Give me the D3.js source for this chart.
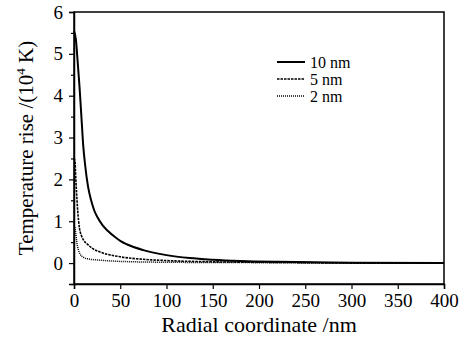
<!DOCTYPE html>
<html>
<head>
<meta charset="utf-8">
<script src="https://cdn.jsdelivr.net/npm/d3@7"></script>
<style>
  body { margin: 0; background: #fff; }
  svg text { font-family: "Liberation Serif", "Times New Roman", serif; fill: #000; }
</style>
</head>
<body>
<div id="wrapper"></div>
<script>
// data (radius in nm, temperature rise in 10^4 K)
const r10 = [0, 2, 4, 6, 8, 10, 12, 15, 18.5, 22, 26, 31, 37, 45, 50, 57, 75, 100, 125, 150, 180, 220, 260, 300, 400];
const t10 = [5.55, 5.35, 4.8, 4.2, 3.5, 2.8, 2.35, 1.85, 1.5, 1.25, 1.07, 0.9, 0.76, 0.61, 0.53, 0.45, 0.31, 0.19, 0.12, 0.08, 0.05, 0.03, 0.02, 0.01, 0];
const r5 = [0, 1, 2, 3, 4, 5, 6, 8, 10, 15, 20, 30, 50, 75, 100, 150, 200, 250, 300, 400];
const t5 = [2.5, 2.45, 2.0, 1.6, 1.25, 1.0, 0.82, 0.66, 0.56, 0.44, 0.35, 0.25, 0.15, 0.09, 0.06, 0.03, 0.02, 0.01, 0, 0];
const r2 = [0, 1, 2, 3, 4, 5, 7, 10, 15, 28, 50, 100, 200, 300, 400];
const t2 = [0.9, 0.85, 0.7, 0.5, 0.38, 0.3, 0.2, 0.14, 0.1, 0.07, 0.04, 0.02, 0.01, 0, 0];

const seriesNames = ["10 nm", "5 nm", "2 nm"];
const xTicks = [0, 50, 100, 150, 200, 250, 300, 350, 400];
const yTicks = [0, 1, 2, 3, 4, 5, 6];

const series = [
  { name: seriesNames[0], r: r10, t: t10, width: 2, dash: null },
  { name: seriesNames[1], r: r5, t: t5, width: 1.6, dash: "2.5,1" },
  { name: seriesNames[2], r: r2, t: t2, width: 1.5, dash: "1,1" },
];

const width = 472;
const height = 341;
const margin = { top: 12, right: 28, bottom: 57, left: 74 };

const svg = d3.select("#wrapper").append("svg")
  .attr("width", width)
  .attr("height", height);

const x = d3.scaleLinear().domain([0, 400]).range([margin.left, width - margin.right]);
const y = d3.scaleLinear().domain([-0.5, 6]).range([height - margin.bottom, margin.top]);

// frame
svg.append("rect")
  .attr("x", x(0)).attr("y", y(6))
  .attr("width", x(400) - x(0)).attr("height", y(-0.5) - y(6))
  .attr("fill", "none").attr("stroke", "#000").attr("stroke-width", 1.5);

// axes
const xAxis = svg.append("g")
  .attr("transform", `translate(0,${y(-0.5)})`)
  .call(d3.axisBottom(x).tickValues(xTicks).tickSize(5).tickPadding(5).tickFormat(d3.format("d")));

const yAxis = svg.append("g")
  .attr("transform", `translate(${x(0)},0)`)
  .call(d3.axisLeft(y).tickValues(yTicks).tickSize(5).tickPadding(6).tickFormat(d3.format("d")));

// minor y ticks
svg.append("g")
  .attr("transform", `translate(${x(0)},0)`)
  .call(d3.axisLeft(y).tickValues(d3.range(-0.5, 6, 1)).tickSize(3).tickFormat(""))
  .call((g) => g.select(".domain").remove());

[xAxis, yAxis].forEach((g) => {
  g.select(".domain").attr("stroke-width", 1.5);
  g.selectAll(".tick text").style("font-size", "19px");
});
svg.selectAll(".tick line").attr("stroke-width", 1.2);

// curves
const line = d3.line()
  .x((d) => x(d[0]))
  .y((d) => y(d[1]))
  .curve(d3.curveMonotoneX);

series.forEach((s) => {
  svg.append("path")
    .datum(s.r.map((v, i) => [v, s.t[i]]))
    .attr("fill", "none")
    .attr("stroke", "#000")
    .attr("stroke-width", s.width)
    .attr("stroke-dasharray", s.dash)
    .attr("d", line);
});

// legend
const legend = svg.append("g").attr("transform", "translate(277,62)");
series.forEach((s, i) => {
  const g = legend.append("g").attr("transform", `translate(0,${i * 17})`);
  g.append("line")
    .attr("x1", 0).attr("x2", 28)
    .attr("stroke", "#000")
    .attr("stroke-width", s.width)
    .attr("stroke-dasharray", s.dash);
  g.append("text")
    .attr("x", 33).attr("y", 5.5)
    .style("font-size", "16px")
    .text(s.name);
});

// axis titles
svg.append("text")
  .attr("x", (x(0) + x(400)) / 2)
  .attr("y", 332)
  .attr("text-anchor", "middle")
  .style("font-size", "22px")
  .text("Radial coordinate /nm");

const yt = svg.append("text")
  .attr("transform", `translate(33,${(y(-0.5) + y(6)) / 2}) rotate(-90)`)
  .attr("text-anchor", "middle")
  .style("font-size", "21px");
yt.append("tspan").text("Temperature rise /(10");
yt.append("tspan").attr("dy", -8).style("font-size", "13px").text("4");
yt.append("tspan").attr("dy", 8).text(" K)");
</script>
</body>
</html>
